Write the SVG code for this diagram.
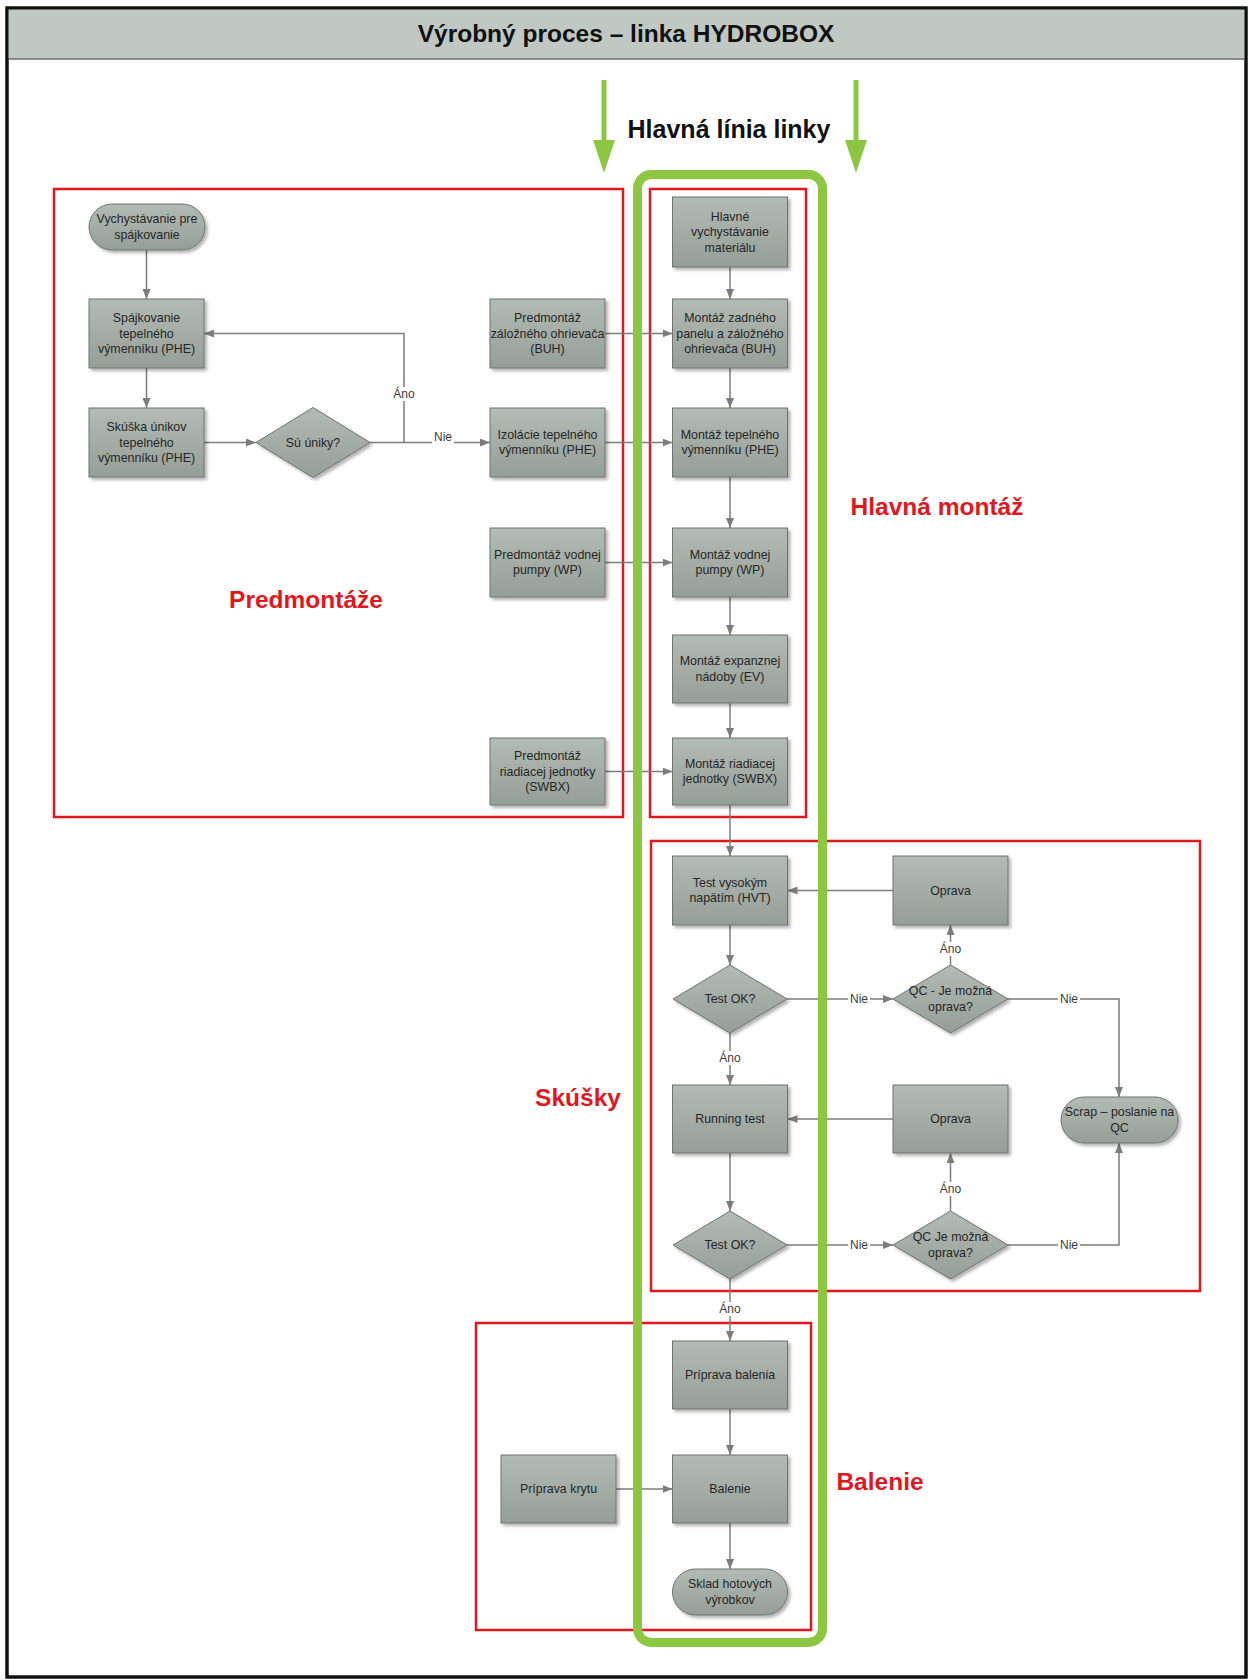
<svg xmlns="http://www.w3.org/2000/svg" width="1252" height="1680" viewBox="0 0 1252 1680">
<style>
.frame{fill:#ffffff;stroke:#111111;stroke-width:3}
.band{fill:#C0C8C3;stroke:#6E6E6E;stroke-width:1.5}
.title{font-family:"Liberation Sans",Arial,sans-serif;font-weight:bold;font-size:24.5px;fill:#111111;text-anchor:middle}
.head{font-family:"Liberation Sans",Arial,sans-serif;font-weight:bold;font-size:25px;fill:#111111;text-anchor:middle}
.grp{fill:none;stroke:#E2171E;stroke-width:2.5}
.lbl{font-family:"Liberation Sans",Arial,sans-serif;font-weight:bold;font-size:24.5px;fill:#E2171E;text-anchor:middle}
.main{fill:none;stroke:#8DC641;stroke-width:9}
.garrow{stroke:#8DC641;stroke-width:5;fill:none}
.ghead{fill:#8DC641}
.box{fill:url(#g);stroke:#6C746E;stroke-width:1;filter:url(#sh)}
.t{font-family:"Liberation Sans",Arial,sans-serif;font-size:12.4px;fill:#262626;text-anchor:middle}
.c{fill:none;stroke:#7C7C7C;stroke-width:1.5;marker-end:url(#a)}
.cl{font-family:"Liberation Sans",Arial,sans-serif;font-size:12px;fill:#3a3a3a;text-anchor:middle}
.bg{fill:#ffffff}
</style>
<defs>
<linearGradient id="g" x1="0" y1="0" x2="0" y2="1">
<stop offset="0" stop-color="#B3BBB5"/>
<stop offset="1" stop-color="#959E97"/>
</linearGradient>
<filter id="sh" x="-10%" y="-10%" width="130%" height="130%">
<feDropShadow dx="2.5" dy="2.5" stdDeviation="1.5" flood-color="#000000" flood-opacity="0.3"/>
</filter>
<marker id="a" viewBox="0 0 10 8" refX="10" refY="4" markerWidth="10" markerHeight="8" markerUnits="userSpaceOnUse" orient="auto">
<path d="M0,0 L10,4 L0,8 z" fill="#7C7C7C"/>
</marker>
</defs>

<rect class="frame" x="7" y="8" width="1239" height="1669"/>
<rect class="band" x="7" y="8" width="1239" height="51"/>
<rect x="7" y="8" width="1239" height="1669" fill="none" stroke="#111111" stroke-width="3"/>
<text class="title" x="626" y="42">Výrobný proces – linka HYDROBOX</text>

<g id="main-line">
<line class="garrow" x1="604" y1="80" x2="604" y2="142"/>
<polygon class="ghead" points="593,140 615,140 604,173"/>
<line class="garrow" x1="856" y1="80" x2="856" y2="142"/>
<polygon class="ghead" points="845,140 867,140 856,173"/>
<text class="head" x="729" y="138">Hlavná línia linky</text>
</g>

<g id="groups">
<rect class="grp" x="54" y="189" width="569" height="628"/>
<rect class="grp" x="650" y="189" width="156" height="628"/>
<rect class="grp" x="651" y="841" width="549" height="450"/>
<rect class="grp" x="476" y="1323" width="335" height="307"/>
<text class="lbl" x="306" y="608">Predmontáže</text>
<text class="lbl" x="937" y="515">Hlavná montáž</text>
<text class="lbl" x="578" y="1106">Skúšky</text>
<text class="lbl" x="880" y="1490">Balenie</text>
</g>

<g id="connectors">
<path class="c" d="M146.5,250 V299"/>
<path class="c" d="M146.5,368 V408"/>
<path class="c" d="M204,442.5 H256"/>
<path class="c" d="M370,442.5 H490"/>
<path class="c" d="M404,442.5 V333.5 H204"/>
<path class="c" d="M605,333.5 H672.5"/>
<path class="c" d="M605,442.5 H672.5"/>
<path class="c" d="M605,562.5 H672.5"/>
<path class="c" d="M605,771.5 H672.5"/>
<path class="c" d="M730,267 V299"/>
<path class="c" d="M730,368 V408"/>
<path class="c" d="M730,477 V528"/>
<path class="c" d="M730,597 V635"/>
<path class="c" d="M730,703 V738"/>
<path class="c" d="M730,805 V856"/>
<path class="c" d="M730,925 V965"/>
<path class="c" d="M730,1033 V1085"/>
<path class="c" d="M787,999 H893"/>
<path class="c" d="M950.5,965 V925"/>
<path class="c" d="M893,890.5 H787.5"/>
<path class="c" d="M1008,999 H1119 V1097"/>
<path class="c" d="M730,1153 V1211"/>
<path class="c" d="M787,1245 H893"/>
<path class="c" d="M950.5,1211 V1153"/>
<path class="c" d="M893,1119 H787.5"/>
<path class="c" d="M1008,1245 H1119 V1143"/>
<path class="c" d="M730,1279 V1341"/>
<path class="c" d="M730,1409 V1455"/>
<path class="c" d="M616,1489 H672.5"/>
<path class="c" d="M730,1523 V1569"/>
<rect class="bg" x="392" y="387" width="25" height="14"/>
<text class="cl" x="404" y="398">Áno</text>
<rect class="bg" x="432" y="432" width="22" height="12"/>
<text class="cl" x="443" y="441">Nie</text>
<rect class="bg" x="848" y="991" width="22" height="14"/>
<text class="cl" x="859" y="1003">Nie</text>
<rect class="bg" x="1058" y="991" width="22" height="14"/>
<text class="cl" x="1069" y="1003">Nie</text>
<rect class="bg" x="938" y="942" width="25" height="14"/>
<text class="cl" x="950.5" y="953">Áno</text>
<rect class="bg" x="718" y="1051" width="25" height="14"/>
<text class="cl" x="730" y="1062">Áno</text>
<rect class="bg" x="848" y="1237" width="22" height="14"/>
<text class="cl" x="859" y="1249">Nie</text>
<rect class="bg" x="1058" y="1237" width="22" height="14"/>
<text class="cl" x="1069" y="1249">Nie</text>
<rect class="bg" x="938" y="1182" width="25" height="14"/>
<text class="cl" x="950.5" y="1193">Áno</text>
<rect class="bg" x="718" y="1302" width="25" height="14"/>
<text class="cl" x="730" y="1313">Áno</text>
</g>

<g id="green-band">
<rect class="main" x="637.5" y="174.5" width="185" height="1468" rx="14"/>
</g>

<g id="n-vychystavanie">
<rect class="box" x="89" y="204" width="116" height="46" rx="23"/>
<text class="t" x="147" y="223">Vychystávanie pre</text>
<text class="t" x="147" y="238.5">spájkovanie</text>
</g>
<g id="n-spajkovanie">
<rect class="box" x="89" y="299" width="115" height="69"/>
<text class="t" x="146.5" y="322">Spájkovanie</text>
<text class="t" x="146.5" y="337.5">tepelného</text>
<text class="t" x="146.5" y="353">výmenníku (PHE)</text>
</g>
<g id="n-skuska">
<rect class="box" x="89" y="408" width="115" height="69"/>
<text class="t" x="146.5" y="431">Skúška únikov</text>
<text class="t" x="146.5" y="446.5">tepelného</text>
<text class="t" x="146.5" y="462">výmenníku (PHE)</text>
</g>
<g id="n-su-uniky">
<polygon class="box" points="313,407.5 370,442.5 313,477.5 256,442.5"/>
<text class="t" x="313" y="446.5">Sú úniky?</text>
</g>
<g id="n-pred-buh">
<rect class="box" x="490" y="299" width="115" height="69"/>
<text class="t" x="547.5" y="322">Predmontáž</text>
<text class="t" x="547.5" y="337.5">záložného ohrievača</text>
<text class="t" x="547.5" y="353">(BUH)</text>
</g>
<g id="n-izolacie">
<rect class="box" x="490" y="408" width="115" height="69"/>
<text class="t" x="547.5" y="438.5">Izolácie tepelného</text>
<text class="t" x="547.5" y="454">výmenníku (PHE)</text>
</g>
<g id="n-pred-wp">
<rect class="box" x="490" y="528" width="115" height="69"/>
<text class="t" x="547.5" y="558.5">Predmontáž vodnej</text>
<text class="t" x="547.5" y="574">pumpy (WP)</text>
</g>
<g id="n-pred-swbx">
<rect class="box" x="490" y="738" width="115" height="67"/>
<text class="t" x="547.5" y="760">Predmontáž</text>
<text class="t" x="547.5" y="775.5">riadiacej jednotky</text>
<text class="t" x="547.5" y="791">(SWBX)</text>
</g>

<g id="n-hlavne">
<rect class="box" x="672.5" y="197" width="115" height="70"/>
<text class="t" x="730" y="220.5">Hlavné</text>
<text class="t" x="730" y="236">vychystávanie</text>
<text class="t" x="730" y="251.5">materiálu</text>
</g>
<g id="n-montaz-buh">
<rect class="box" x="672.5" y="299" width="115" height="69"/>
<text class="t" x="730" y="322">Montáž zadného</text>
<text class="t" x="730" y="337.5">panelu a záložného</text>
<text class="t" x="730" y="353">ohrievača (BUH)</text>
</g>
<g id="n-montaz-phe">
<rect class="box" x="672.5" y="408" width="115" height="69"/>
<text class="t" x="730" y="438.5">Montáž tepelného</text>
<text class="t" x="730" y="454">výmenníku (PHE)</text>
</g>
<g id="n-montaz-wp">
<rect class="box" x="672.5" y="528" width="115" height="69"/>
<text class="t" x="730" y="558.5">Montáž vodnej</text>
<text class="t" x="730" y="574">pumpy (WP)</text>
</g>
<g id="n-montaz-ev">
<rect class="box" x="672.5" y="635" width="115" height="68"/>
<text class="t" x="730" y="665">Montáž expanznej</text>
<text class="t" x="730" y="680.5">nádoby (EV)</text>
</g>
<g id="n-montaz-swbx">
<rect class="box" x="672.5" y="738" width="115" height="67"/>
<text class="t" x="730" y="767.5">Montáž riadiacej</text>
<text class="t" x="730" y="783">jednotky (SWBX)</text>
</g>

<g id="n-hvt">
<rect class="box" x="672.5" y="856" width="115" height="69"/>
<text class="t" x="730" y="886.5">Test vysokým</text>
<text class="t" x="730" y="902">napätím (HVT)</text>
</g>
<g id="n-oprava1">
<rect class="box" x="893" y="856" width="115" height="69"/>
<text class="t" x="950.5" y="894.5">Oprava</text>
</g>
<g id="n-test1">
<polygon class="box" points="730,965 787,999 730,1033 673,999"/>
<text class="t" x="730" y="1003">Test OK?</text>
</g>
<g id="n-qc1">
<polygon class="box" points="950.5,965 1008,999 950.5,1033 893,999"/>
<text class="t" x="950.5" y="995">QC - Je možná</text>
<text class="t" x="950.5" y="1010.5">oprava?</text>
</g>
<g id="n-running">
<rect class="box" x="672.5" y="1085" width="115" height="68"/>
<text class="t" x="730" y="1123">Running test</text>
</g>
<g id="n-oprava2">
<rect class="box" x="893" y="1085" width="115" height="68"/>
<text class="t" x="950.5" y="1123">Oprava</text>
</g>
<g id="n-scrap">
<rect class="box" x="1061" y="1097" width="117" height="46" rx="23"/>
<text class="t" x="1119.5" y="1116">Scrap – poslanie na</text>
<text class="t" x="1119.5" y="1131.5">QC</text>
</g>
<g id="n-test2">
<polygon class="box" points="730,1211 787,1245 730,1279 673,1245"/>
<text class="t" x="730" y="1249">Test OK?</text>
</g>
<g id="n-qc2">
<polygon class="box" points="950.5,1211 1008,1245 950.5,1279 893,1245"/>
<text class="t" x="950.5" y="1241">QC  Je možná</text>
<text class="t" x="950.5" y="1256.5">oprava?</text>
</g>

<g id="n-priprava-balenia">
<rect class="box" x="672.5" y="1341" width="115" height="68"/>
<text class="t" x="730" y="1379">Príprava balenia</text>
</g>
<g id="n-balenie">
<rect class="box" x="672.5" y="1455" width="115" height="68"/>
<text class="t" x="730" y="1493">Balenie</text>
</g>
<g id="n-priprava-krytu">
<rect class="box" x="501" y="1455" width="115" height="68"/>
<text class="t" x="558.5" y="1493">Príprava krytu</text>
</g>
<g id="n-sklad">
<rect class="box" x="672.5" y="1569" width="115" height="46" rx="23"/>
<text class="t" x="730" y="1588">Sklad hotových</text>
<text class="t" x="730" y="1603.5">výrobkov</text>
</g>
</svg>
